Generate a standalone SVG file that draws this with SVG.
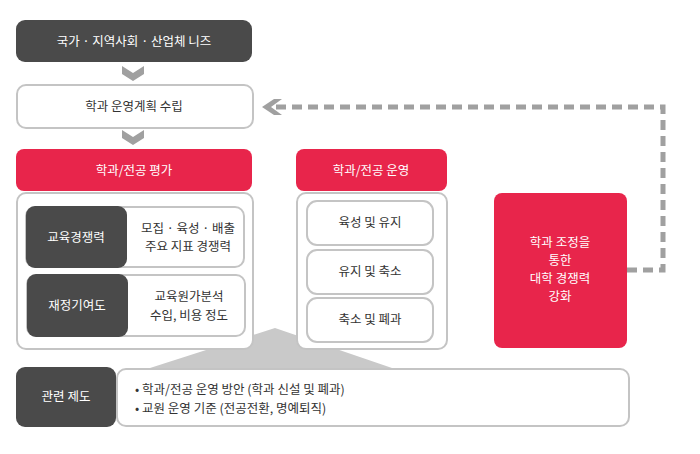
<svg xmlns="http://www.w3.org/2000/svg" width="700" height="454" viewBox="0 0 700 454">
<style>
text{font-family:"Noto Sans CJK KR","Noto Sans",sans-serif;font-size:12.5px;text-anchor:middle;fill:#333}
.w{fill:#fff}
.dark{fill:#4a4a4a}
.red{fill:#e8254b}
.box{fill:#fff;stroke:#c4c4c4;stroke-width:2}
.chev{fill:#a0a0a0}
</style>
<rect width="700" height="454" fill="#fff"/>
<g id="connectors">
<polygon points="275,328 150,368 392,368" fill="#c9c9c9"/>
<polygon class="chev" points="122,66 133,73 144,66 144,74 133,81 122,74"/>
<polygon class="chev" points="122,130 133,137 144,130 144,138 133,145 122,138"/>
<polyline points="627,270 663,270 663,107 276,107" fill="none" stroke="#a0a0a0" stroke-width="5" stroke-dasharray="10,6"/>
<polygon points="262,107 274,99 282,99 271,107 282,115 274,115" fill="#a0a0a0"/>
</g>
<g id="needs"><rect x="16" y="20" width="236" height="42" rx="9" class="dark"/><text x="134" y="46" class="w">국가 · 지역사회 · 산업체 니즈</text></g>
<g id="plan"><rect x="17" y="85" width="236" height="43" rx="9" class="box"/><text x="134" y="111">학과 운영계획 수립</text></g>
<g id="eval-header"><rect x="16" y="149" width="236" height="42" rx="8" class="red"/><text x="134" y="175" class="w">학과/전공 평가</text></g>
<g id="eval-panel"><rect x="17" y="193" width="236" height="156" rx="9" class="box" stroke-width="1.5"/></g>
<g id="edu"><rect x="26" y="207" width="218" height="60" rx="9" class="box"/><rect x="26" y="206" width="101" height="62" rx="9" class="dark"/><text x="76" y="242" class="w">교육경쟁력</text><text x="188" y="233">모집 · 육성 · 배출</text><text x="188" y="251">주요 지표 경쟁력</text></g>
<g id="fin"><rect x="27" y="275" width="218" height="61" rx="9" class="box"/><rect x="27" y="274" width="101" height="63" rx="9" class="dark"/><text x="77" y="310" class="w">재정기여도</text><text x="189" y="301">교육원가분석</text><text x="189" y="320">수입, 비용 정도</text></g>
<g id="ops-header"><rect x="296" y="149" width="151" height="42" rx="8" class="red"/><text x="371" y="175" class="w">학과/전공 운영</text></g>
<g id="ops-panel"><rect x="297" y="193" width="150" height="156" rx="9" class="box" stroke-width="1.5"/></g>
<g id="op1"><rect x="307" y="201" width="126" height="44" rx="10" class="box"/><text x="370" y="227">육성 및 유지</text></g>
<g id="op2"><rect x="307" y="250" width="126" height="44" rx="10" class="box"/><text x="370" y="276">유지 및 축소</text></g>
<g id="op3"><rect x="307" y="298" width="126" height="44" rx="10" class="box"/><text x="370" y="324">축소 및 폐과</text></g>
<g id="adjust"><rect x="494" y="193" width="133" height="155" rx="8" class="red"/><text x="560" y="247" class="w">학과 조정을</text><text x="560" y="265" class="w">통한</text><text x="560" y="283" class="w">대학 경쟁력</text><text x="560" y="301" class="w">강화</text></g>
<g id="rules"><rect x="117" y="369" width="512" height="57" rx="9" class="box" stroke-width="1.5"/><rect x="16" y="367" width="100" height="60" rx="9" class="dark"/><text x="66" y="401" class="w">관련 제도</text><text x="135" y="394" style="text-anchor:start">• 학과/전공 운영 방안 (학과 신설 및 폐과)</text><text x="135" y="413" style="text-anchor:start">• 교원 운영 기준 (전공전환, 명예퇴직)</text></g>
</svg>
